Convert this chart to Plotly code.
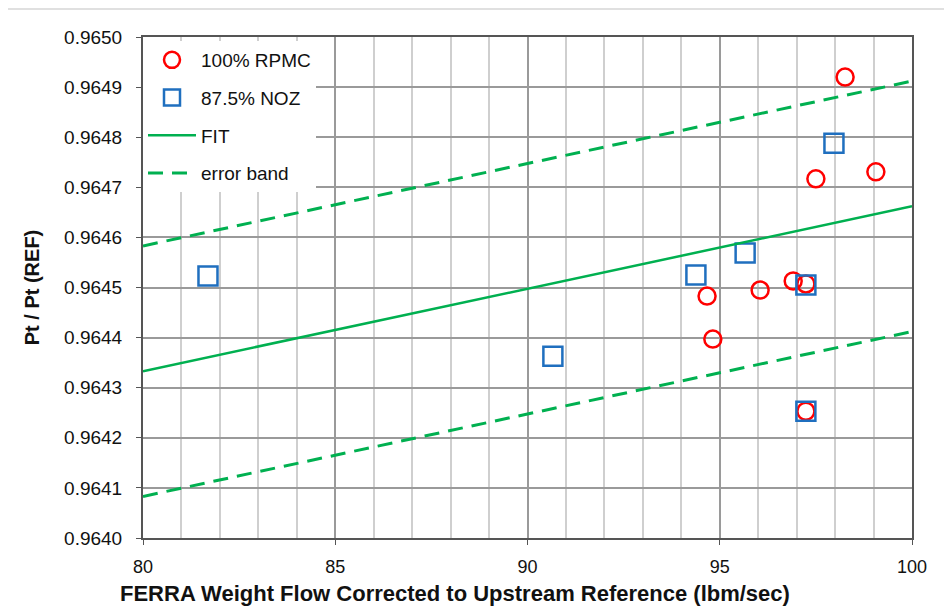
import plotly.graph_objects as go

rpmc_x = [98.26, 97.50, 99.06, 94.67, 94.82, 96.05, 96.91, 97.24, 97.24]
rpmc_y = [0.964920, 0.964717, 0.964731, 0.964483, 0.964397, 0.964495, 0.964513, 0.964507, 0.964253]

noz_x = [81.69, 90.66, 94.38, 95.66, 97.24, 97.24, 97.97]
noz_y = [0.964523, 0.964363, 0.964525, 0.964569, 0.964505, 0.964253, 0.964788]

fit_x = [80, 100]
fit_y = [0.964333, 0.964662]
band_upper = [0.964583, 0.964912]
band_lower = [0.964083, 0.964412]

RED = "#FF0000"
BLUE = "#1F6FBF"
GREEN = "#00B050"
FONT = "Liberation Sans, Arial, sans-serif"
DASH = "15px,9px"

fig = go.Figure()
fig.add_trace(go.Scatter(x=rpmc_x, y=rpmc_y, mode="markers", name="100% RPMC",
                         legendgroup="a",
                         marker=dict(symbol="circle-open", size=17, color=RED,
                                     line=dict(width=2.5, color=RED))))
fig.add_trace(go.Scatter(x=noz_x, y=noz_y, mode="markers", name="87.5% NOZ",
                         legendgroup="b",
                         marker=dict(symbol="square-open", size=19, color=BLUE,
                                     line=dict(width=2.5, color=BLUE))))
fig.add_trace(go.Scatter(x=fit_x, y=fit_y, mode="lines", name="FIT", legendgroup="c",
                         line=dict(color=GREEN, width=2.5)))
fig.add_trace(go.Scatter(x=fit_x, y=band_upper, mode="lines", name="error band",
                         legendgroup="d",
                         line=dict(color=GREEN, width=3, dash=DASH)))
fig.add_trace(go.Scatter(x=fit_x, y=band_lower, mode="lines", name="error band",
                         legendgroup="d", showlegend=False,
                         line=dict(color=GREEN, width=3, dash=DASH)))

fig.update_layout(
    width=952, height=606,
    margin=dict(l=135, r=48, t=29, b=76, autoexpand=False),
    paper_bgcolor="white", plot_bgcolor="white",
    font=dict(family=FONT, size=18, color="#111"),
    showlegend=True,
    legend=dict(x=0.0, y=0.992, xanchor="left", yanchor="top",
                bgcolor="white", borderwidth=0,
                font=dict(family=FONT, size=19, color="#111"),
                tracegroupgap=10, traceorder="grouped", itemwidth=48),
    xaxis=dict(range=[80, 100], dtick=5, showgrid=True, gridcolor="#9a9a9a", gridwidth=1.5,
               minor=dict(dtick=1, showgrid=True, gridcolor="#cfcfcf", gridwidth=1.5),
               showline=True, linecolor="#555", linewidth=2, mirror=True,
               ticks="outside", ticklen=5, tickcolor="#555", zeroline=False,
               tickfont=dict(size=18), ticklabelstandoff=6, automargin=False),
    yaxis=dict(range=[0.9640, 0.9650], dtick=0.0001, tickformat=".4f",
               showgrid=True, gridcolor="#9a9a9a", gridwidth=1.5,
               showline=True, linecolor="#555", linewidth=2, mirror=True,
               ticks="outside", ticklen=5, tickcolor="#555", zeroline=False,
               tickfont=dict(size=19), ticklabelstandoff=10, automargin=False,
               title=dict(text="<b>Pt / Pt (REF)</b>", font=dict(size=20), standoff=19)),
    annotations=[dict(text="<b>FERRA Weight Flow Corrected to Upstream Reference (lbm/sec)</b>",
                      xref="paper", yref="paper", x=0.4057, y=-0.111,
                      xanchor="center", yanchor="middle", showarrow=False,
                      font=dict(family=FONT, size=22, color="#111"))],
    shapes=[dict(type="line", xref="paper", yref="paper", x0=-0.1756, x1=1.06,
                 y0=1.0559, y1=1.0559, line=dict(color="#e0e0e0", width=2))],
)

fig.write_html("out.html")
